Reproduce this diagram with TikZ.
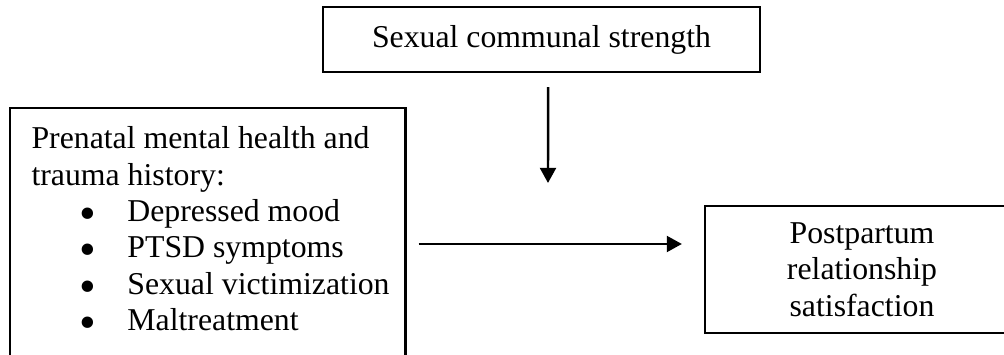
\documentclass[tikz,border=0pt]{standalone}
\usepackage{fontspec}
\setmainfont{Liberation Serif}
\usetikzlibrary{arrows.meta}
\newcommand{\bulletline}[1]{\hspace*{17.4pt}\makebox[17.6pt][l]{\smash{\raisebox{-2.8pt}{\scalebox{1.5}{\textbullet}}}}#1}

\begin{document}
\begin{tikzpicture}[x=0.365pt,y=0.365pt,yscale=-1,
    every node/.style={font=\fontsize{11.6}{13.3}\selectfont},
    box/.style={draw,line width=0.9pt,inner sep=0pt},
    arrowline/.style={line width=0.9pt,-{Triangle[length=5.5pt,width=5.8pt]}}]
        \useasboundingbox (0,0) rectangle (1004,355);
        \clip (0,0) rectangle (1004,355);

        % Shape: Rectangle
        \draw (541.5,39.5) node [box][minimum width=159.5pt,minimum height=23.7pt] (sexual) {Sexual communal strength};
        % Shape: Rectangle (runs off the bottom of the page)
        \draw (9,107) node [box][anchor=north west][minimum width=144.2pt,minimum height=100pt] (prenatal) {};
        % Shape: Rectangle (runs off the right of the page)
        \draw (862,269.5) node [box][minimum width=114.6pt,minimum height=46.4pt][align=center] (postpartum) {%
            Postpartum\\relationship\\satisfaction
        };

        % Text Node
        \draw (31,126) node [anchor=north west][inner sep=0pt][align=left] (prenataltext) {%
            Prenatal mental health and\\
            trauma history:\\
            \bulletline{Depressed mood}\\
            \bulletline{PTSD symptoms}\\
            \bulletline{Sexual victimization}\\
            \bulletline{Maltreatment}
        };

        \coordinate (modpoint) at (548,183);
        \coordinate (hline) at (0,244);

        % Straight Lines
        \draw [arrowline][shorten <=5.1pt] ([xshift=2.4pt]sexual.south) -- (modpoint);
        % Straight Lines
        \draw [arrowline][shorten <=4.4pt,shorten >=8pt] (prenatal.east |- hline) -- (postpartum.west |- hline);
    \end{tikzpicture}
\end{document}
